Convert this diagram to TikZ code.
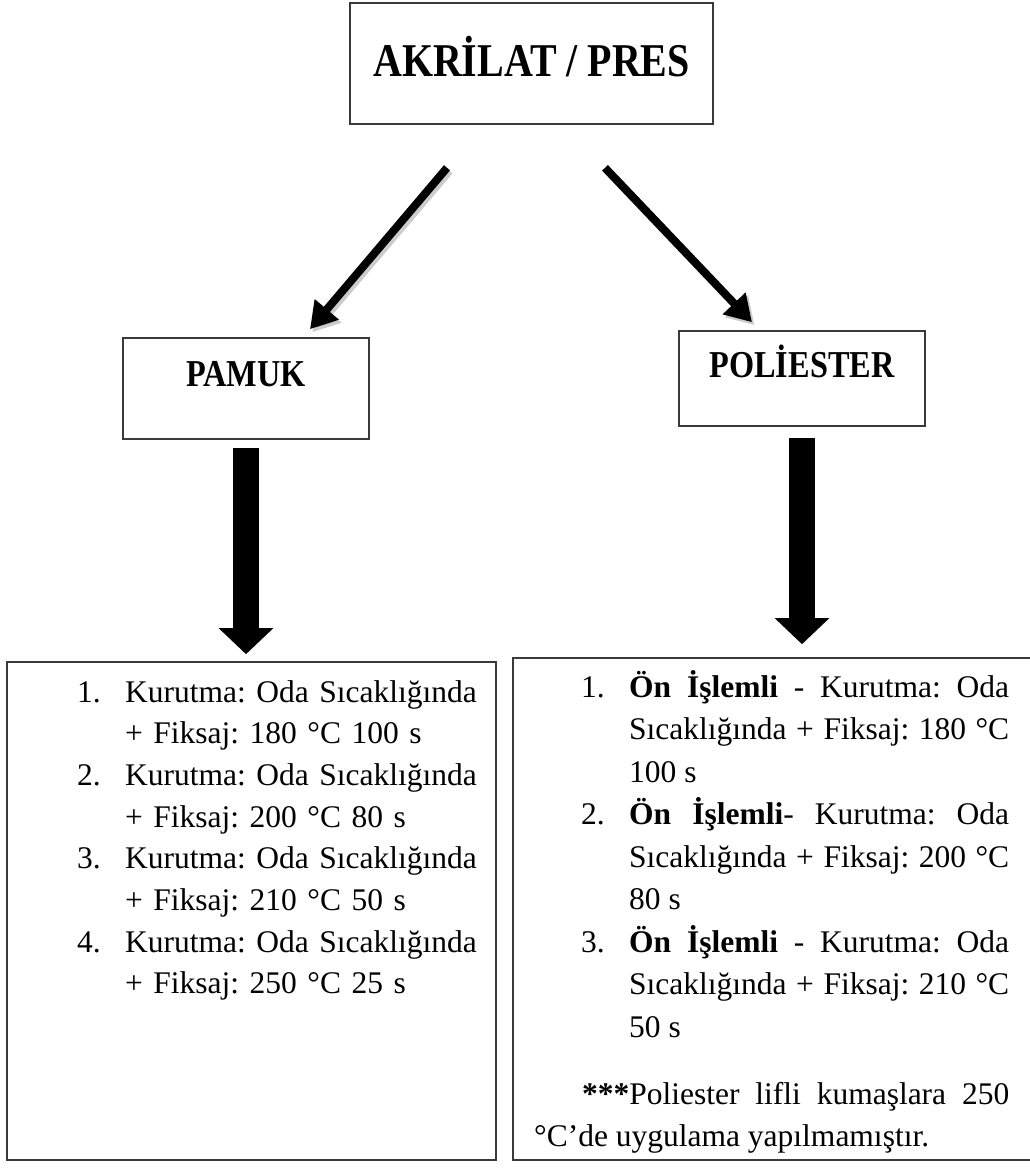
\documentclass[tikz,border=0pt]{standalone}
\usepackage{fontspec}
\setmainfont{Liberation Serif}
\newfontfamily\headfont[FakeStretch=0.85]{Liberation Serif}
\usetikzlibrary{arrows.meta,positioning}
\definecolor{FrameGray}{HTML}{3A3A3A}
\frenchspacing

\tikzset{
  boxframe/.style={draw=FrameGray,line width=1.6pt,inner sep=0pt},
  headbox/.style={boxframe,anchor=base},
  fanarrow/.style={line width=8pt,-{Triangle[length=26pt,width=30pt]}},
  fanshadow/.style={fanarrow,black,opacity=.2,transform canvas={xshift=2.5pt,yshift=-3pt}},
  blockarrow/.style={line width=26pt,-{Triangle[length=26pt,width=53pt]}},
  listtext/.style={inner sep=0pt,anchor=base west}
}
% numbered line with hanging indent
\newcommand\listno[1]{\noindent\hangindent=48pt\hangafter=1\makebox[48pt][l]{#1}}

\begin{document}
\begin{tikzpicture}[x=1pt,y=-1pt]
  \useasboundingbox (0,0) rectangle (1029,1169);

  % title and fibre boxes
  \node[headbox,minimum width=363pt,text height=74pt,text depth=47pt,
    font=\headfont\bfseries\fontsize{47}{50}\selectfont] (akrilat) at (531.5,77) {AKRİLAT / PRES};
  \node[headbox,minimum width=246pt,text height=48pt,text depth=53pt,
    font=\headfont\bfseries\fontsize{38}{40}\selectfont] (pamuk) at (246,386) {PAMUK};
  \node[headbox,minimum width=246pt,text height=46pt,text depth=49pt,
    font=\headfont\bfseries\fontsize{38}{40}\selectfont] (poliester) at (802,377) {POLİESTER};

  % list frames
  \node[boxframe,minimum width=489pt,minimum height=498pt] (pamukliste) at (251.5,911) {};
  \node[boxframe,minimum width=519pt,minimum height=502pt] (poliesterliste) at (772.5,909) {};

  \node[listtext,text width=412pt,align=left,font=\fontsize{31.5}{41.7}\selectfont] (pamukmetin) at (77,702) {%
    \hyphenpenalty=10000
    \listno{1.}Kurutma: Oda Sıcaklığında\newline + Fiksaj: 180 °C 100 s\par
    \listno{2.}Kurutma: Oda Sıcaklığında\newline + Fiksaj: 200 °C 80 s\par
    \listno{3.}Kurutma: Oda Sıcaklığında\newline + Fiksaj: 210 °C 50 s\par
    \listno{4.}Kurutma: Oda Sıcaklığında\newline + Fiksaj: 250 °C 25 s\par};

  \node[listtext,text width=475pt,align=justify,font=\fontsize{31.5}{42.5}\selectfont] (poliestermetin) at (534,697) {%
    \hyphenpenalty=10000 \leftskip=47pt
    \listno{1.}\textbf{Ön İşlemli} - Kurutma: Oda\linebreak Sıcaklığında + Fiksaj: 180 °C\linebreak 100 s\par
    \listno{2.}\textbf{Ön İşlemli}- Kurutma: Oda\linebreak Sıcaklığında + Fiksaj: 200 °C\linebreak 80 s\par
    \listno{3.}\textbf{Ön İşlemli} - Kurutma: Oda\linebreak Sıcaklığında + Fiksaj: 210 °C\linebreak 50 s\par
    \vspace{24.5pt}\leftskip=0pt
    \hspace*{48pt}\textbf{***}Poliester lifli kumaşlara 250\linebreak °C’de uygulama yapılmamıştır.\par};

  % arrows
  \draw[fanshadow] ([xshift=-84.5pt,yshift=-43pt]akrilat.south) -- ([xshift=64pt,yshift=8pt]pamuk.north);
  \draw[fanshadow] ([xshift=73.5pt,yshift=-43pt]akrilat.south) -- ([xshift=-50pt,yshift=8pt]poliester.north);
  \draw[fanarrow] ([xshift=-84.5pt,yshift=-43pt]akrilat.south) -- ([xshift=64pt,yshift=8pt]pamuk.north);
  \draw[fanarrow] ([xshift=73.5pt,yshift=-43pt]akrilat.south) -- ([xshift=-50pt,yshift=8pt]poliester.north);

  \draw[blockarrow,shorten <=8pt,shorten >=7pt] (pamuk.south) -- (pamuk.south |- pamukliste.north);
  \draw[blockarrow,shorten <=11pt,shorten >=13pt] (poliester.south) -- (poliester.south |- poliesterliste.north);
\end{tikzpicture}
\end{document}
